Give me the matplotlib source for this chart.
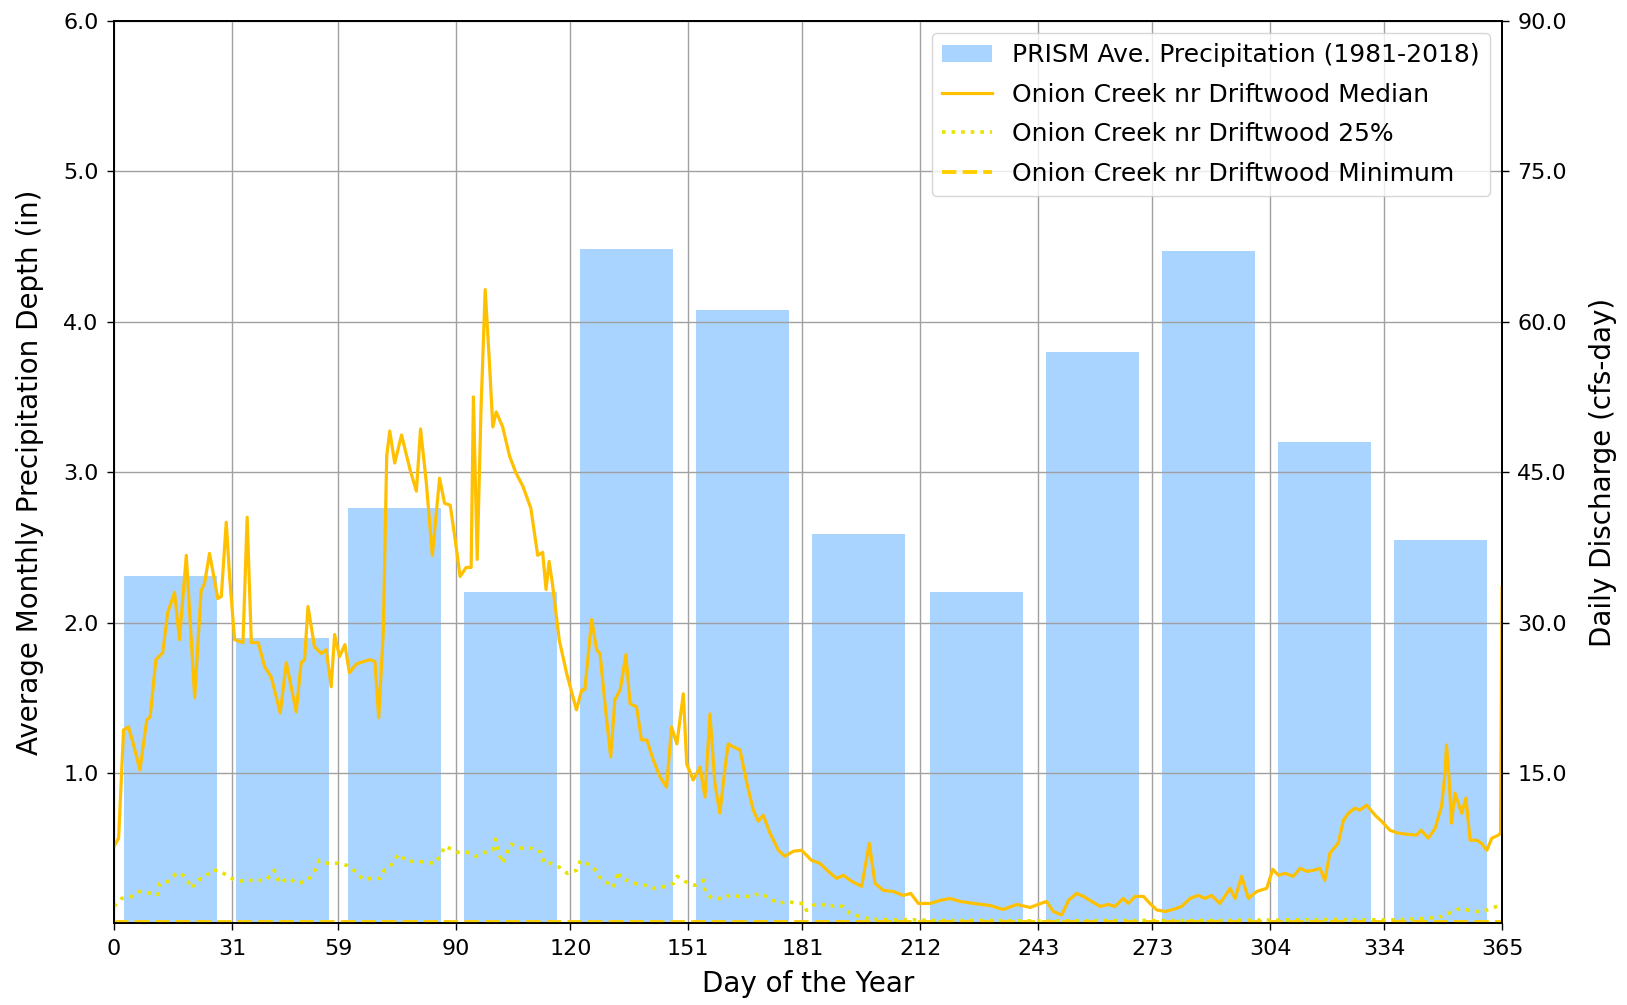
import matplotlib
matplotlib.use("Agg")
import matplotlib.pyplot as plt
from matplotlib.ticker import FormatStrFormatter

# monthly PRISM precipitation (in)
month_start = [0, 31, 59, 90, 120, 151, 181, 212, 243, 273, 304, 334]
month_len = [31, 28, 31, 30, 31, 30, 31, 31, 30, 31, 30, 31]
precip = [2.31, 1.90, 2.76, 2.20, 4.48, 4.08, 2.59, 2.20, 3.80, 4.47, 3.20, 2.55]

# median daily discharge (cfs)
med_day = [0, 1.2, 2.5, 3.8, 5, 6.8, 8.6, 9.5, 11, 12.8, 14.1, 15.9, 17.2, 19, 21.2,
           22.9, 23.8, 25.1, 27.3, 28.2, 29.5, 30.4, 31.7, 33.9, 35, 36.1, 37.9, 39.6,
           41.3, 43.7, 45.3, 47.9, 49.2, 50.1, 51, 52.7, 54.5, 55.8, 57.1, 58, 59.3,
           60.7, 61.9, 63.8, 65.5, 67.3, 68.6, 69.6, 70.8, 71.7, 72.5, 73.8, 75.6, 77.8,
           79.5, 80.6, 82.1, 83.7, 85.6, 86.9, 88.4, 89.8, 91, 92.6, 93.9, 94.5, 95.5,
           96.5, 97.6, 98.7, 99.6, 100.5, 102.2, 104, 105.7, 107.5, 109.6, 111.4, 112.7,
           113.6, 114.4, 115.3, 117.1, 119.1, 121.6, 123, 123.8, 125.6, 126.9, 127.8,
           129.1, 130.6, 131.7, 133.1, 134.6, 135.7, 137.4, 138.7, 140.1, 141.8, 143.6,
           145.3, 146.6, 148, 149.7, 150.6, 152.3, 154.1, 155.4, 156.7, 158, 159.3,
           160.7, 161.5, 162.9, 164.6, 166.4, 168.1, 169.4, 170.7, 172.5, 174.7, 176.4,
           178.6, 180.8, 183.4, 185.6, 187.8, 190, 191.8, 194, 196.6, 198.6, 200.1,
           202.3, 204.9, 207.5, 209.5, 211.5, 214.6, 217.2, 219.8, 222.5, 226, 230.3,
           233.8, 237.4, 240.9, 243, 245.2, 247, 249.2, 251, 253.1, 254.9, 257.1, 259.3,
           261.5, 263.2, 265.4, 266.7, 268.5, 270.7, 272.4, 274.2, 276.4, 278.5, 280.7,
           283, 285.1, 286.9, 288.6, 290.8, 293.5, 294.8, 296.5, 298.3, 300.5, 303.1,
           304.7, 306.2, 307.9, 310.1, 311.9, 313.6, 315.4, 317.1, 318.4, 319.7, 321.9,
           323.3, 324.6, 326.3, 327.6, 329.4, 331.6, 333.3, 335.5, 337.7, 339.9, 342.5,
           343.7, 345.6, 347.4, 349.1, 350, 350.4, 351.1, 351.7, 352.6, 353.5, 354.4,
           355.5, 356.6, 358.3, 359.6, 361, 362.3, 364, 364.6, 365]
med_cfs = [7.7, 8.5, 19.3, 19.6, 18.0, 15.3, 20.3, 20.6, 26.3, 27.0, 31.0, 33.0, 28.3,
           36.7, 22.5, 33.2, 33.9, 36.9, 32.4, 32.6, 40.0, 34.5, 28.3, 28.0, 40.5, 28.0,
           28.0, 25.6, 24.6, 21.0, 26.0, 21.1, 26.0, 26.3, 31.6, 27.6, 26.9, 27.3, 23.6,
           28.8, 26.6, 27.8, 25.0, 25.9, 26.1, 26.3, 26.1, 20.5, 29.1, 46.6, 49.1, 45.9,
           48.7, 45.3, 43.1, 49.3, 44.0, 36.7, 44.4, 41.9, 41.7, 38.0, 34.6, 35.5, 35.5,
           52.5, 36.3, 51.3, 63.2, 56.0, 49.5, 51.0, 49.5, 46.6, 44.9, 43.6, 41.4, 36.7,
           37.0, 33.3, 36.1, 33.8, 28.2, 24.8, 21.3, 23.3, 23.3, 30.3, 27.3, 26.9, 21.9,
           16.6, 22.3, 23.3, 26.8, 21.9, 21.6, 18.3, 18.3, 16.3, 14.6, 13.6, 19.6, 17.9,
           22.9, 15.9, 14.3, 15.6, 12.6, 20.9, 14.0, 11.0, 15.6, 17.9, 17.6, 17.3, 14.0,
           11.3, 10.2, 10.8, 9.0, 7.3, 6.7, 7.2, 7.3, 6.3, 6.0, 5.2, 4.5, 4.8, 4.2, 3.7,
           8.0, 4.0, 3.3, 3.2, 2.8, 3.0, 2.0, 2.0, 2.3, 2.5, 2.2, 2.0, 1.8, 1.4, 1.9, 1.6,
           1.9, 2.2, 1.2, 0.85, 2.3, 3.0, 2.7, 2.2, 1.7, 1.9, 1.7, 2.5, 2.0, 2.7, 2.7, 2.0,
           1.35, 1.2, 1.4, 1.7, 2.5, 2.8, 2.5, 2.8, 2.0, 3.5, 2.5, 4.7, 2.5, 3.2, 3.5, 5.4,
           4.8, 5.0, 4.7, 5.5, 5.2, 5.3, 5.5, 4.3, 7.0, 8.0, 10.3, 11.0, 11.5, 11.3, 11.8,
           10.8, 10.2, 9.3, 9.0, 8.9, 8.8, 9.3, 8.5, 9.5, 11.7, 15.0, 17.8, 14.3, 10.0,
           13.0, 12.0, 11.0, 12.5, 8.3, 8.3, 8.0, 7.3, 8.5, 8.8, 9.0, 33.5]

# 25th percentile daily discharge (cfs)
p25_day = [0, 2, 4.6, 6.8, 9.8, 11.6, 12, 14.2, 16.4, 17.7, 19.4, 20.3, 22, 24.2, 25.5,
           27.7, 29.9, 32.5, 34.7, 36.9, 40, 42.1, 43.5, 45.7, 48.3, 50.9, 52.7, 54, 56.2,
           59, 61.2, 63.4, 65.5, 67.7, 69.9, 71.2, 73.4, 74.7, 77.3, 79.9, 82.1, 84.3,
           86.1, 86.9, 88.2, 90.4, 93, 95.2, 97.4, 99.6, 100.3, 101.3, 102.2, 103.1,
           104.4, 107, 109.6, 112.3, 113.1, 114.9, 117.1, 119.2, 121.6, 122.7, 125.2,
           126.9, 128.2, 130, 131.3, 132.6, 133.1, 134.8, 137, 139.6, 142.3, 144.9, 147.1,
           148.1, 150.1, 152.8, 155, 155.4, 157.2, 159.8, 162, 164.6, 167.2, 169.9, 172.5,
           174.7, 177.3, 179.5, 181.3, 182.1, 183.9, 185.2, 187.8, 190, 191.8, 193.5,
           196.2, 199.2, 202.3, 205.4, 208, 215, 230, 245, 260, 275, 290, 305, 320, 335,
           345, 349, 354, 358, 361, 363.6, 365]
p25_cfs = [1.7, 2.5, 2.7, 3.2, 3.0, 2.9, 4.0, 4.2, 5.0, 5.0, 4.2, 3.5, 4.3, 4.7, 5.3,
           5.3, 4.7, 4.2, 4.3, 4.3, 4.3, 5.3, 4.0, 4.5, 4.0, 4.3, 5.2, 6.3, 6.0, 6.0, 5.8,
           5.2, 4.4, 4.5, 4.5, 5.4, 6.0, 6.9, 6.2, 6.2, 6.1, 6.0, 6.9, 7.7, 7.5, 7.1, 7.1,
           6.7, 7.1, 7.3, 8.4, 6.9, 6.0, 6.9, 7.9, 7.5, 7.5, 7.1, 6.0, 6.0, 5.6, 5.0, 5.3,
           6.3, 5.8, 5.2, 4.3, 4.0, 3.6, 5.2, 4.5, 4.3, 4.0, 3.8, 3.5, 3.7, 4.0, 4.7, 4.2,
           3.8, 4.3, 3.2, 2.5, 2.5, 2.8, 2.7, 2.7, 3.0, 2.5, 2.0, 2.2, 2.0, 2.0, 1.3, 1.8,
           2.0, 1.7, 1.8, 1.7, 1.0, 0.7, 0.4, 0.4, 0.35, 0.4, 0.3, 0.3, 0.25, 0.3, 0.3,
           0.3, 0.35, 0.4, 0.35, 0.5, 0.7, 1.5, 1.2, 1.35, 1.7, 1.85]

# minimum daily discharge (cfs)
min_day = [0, 90, 181, 273, 365]
min_cfs = [0.15, 0.15, 0.15, 0.15, 0.15]

xticks = [0, 31, 59, 90, 120, 151, 181, 212, 243, 273, 304, 334, 365]

fig = plt.figure(figsize=(16.27, 10.05), dpi=100)
ax1 = fig.add_axes([0.0701, 0.0811, 0.8531, 0.8983])
ax2 = ax1.twinx()

bar_x = [s + n / 2 - 0.7 for s, n in zip(month_start, month_len)]
bars = ax1.bar(bar_x, precip, width=24.5, color='dodgerblue', alpha=0.38,
               label='PRISM Ave. Precipitation (1981-2018)')

l1, = ax2.plot(med_day, med_cfs, color='#ffc000', lw=2.3,
               label='Onion Creek nr Driftwood Median')
l2, = ax2.plot(p25_day, p25_cfs, color='#e8e400', lw=2.6, ls=':',
               label='Onion Creek nr Driftwood 25%')
l3, = ax2.plot(min_day, min_cfs, color='#ffd000', lw=2.8, ls='--',
               label='Onion Creek nr Driftwood Minimum')

ax1.set_xlim(0, 365)
ax1.set_ylim(0, 6)
ax2.set_ylim(0, 90)
ax1.set_xticks(xticks)
ax1.set_yticks([1, 2, 3, 4, 5, 6])
ax2.set_yticks([15, 30, 45, 60, 75, 90])
ax1.yaxis.set_major_formatter(FormatStrFormatter('%.1f'))
ax2.yaxis.set_major_formatter(FormatStrFormatter('%.1f'))
ax1.grid(True, color='#a0a0a0', lw=1)

for ax in (ax1, ax2):
    ax.tick_params(labelsize=16, length=5, width=1, pad=6)
    for sp in ax.spines.values():
        sp.set_linewidth(1.3)

ax1.set_xlabel('Day of the Year', fontsize=20, labelpad=8)
ax1.set_ylabel('Average Monthly Precipitation Depth (in)', fontsize=20, labelpad=14)
ax2.set_ylabel('Daily Discharge (cfs-day)', fontsize=20, labelpad=16)

ax2.legend([bars, l1, l2, l3], [h.get_label() for h in (bars, l1, l2, l3)],
           loc='upper right', fontsize=18, labelspacing=0.62)

fig.savefig('out.png', dpi=100)
